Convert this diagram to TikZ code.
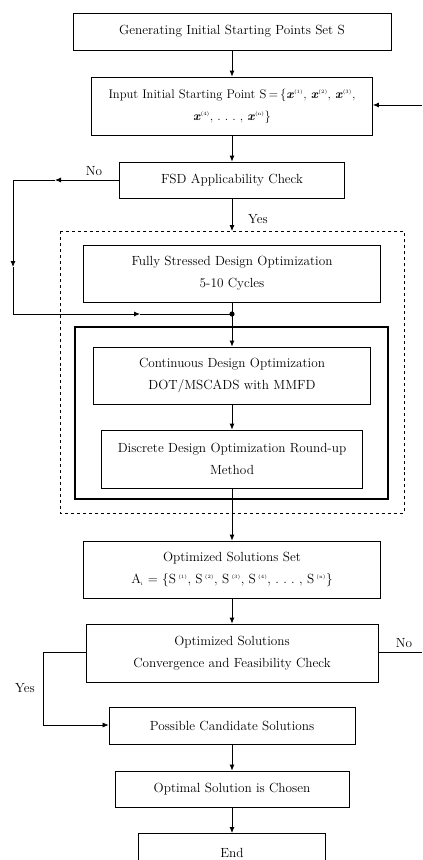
\documentclass[tikz,border=0pt]{standalone}
\usetikzlibrary{arrows.meta}
\begin{document}
\begin{tikzpicture}[x=1bp,y=-1bp,
  every node/.style={font=\fontsize{13.3}{22}\selectfont},
  flowbox/.style={draw, line width=0.8bp, align=center, inner sep=0pt},
  conn/.style={line width=0.8bp, -{Latex[length=6bp,width=5bp]}},
  plain/.style={line width=0.8bp},
  lbl/.style={inner sep=0pt}]
\useasboundingbox (0,0) rectangle (422,860);
\clip (0,0) rectangle (422,860);
% boxes
\node[flowbox, minimum width=318bp, minimum height=37bp] (gen) at (232,31.5) {Generating Initial Starting Points Set S};
\node[flowbox, minimum width=281bp, minimum height=58bp, font=\fontsize{12.6}{22}\selectfont] (inp) at (232,106) {Input Initial Starting Point S\,=\,\{\textbf{\textit{x}}\textsuperscript{\tiny(1)}, \textbf{\textit{x}}\textsuperscript{\tiny(2)}, \textbf{\textit{x}}\textsuperscript{\tiny(3)},\\ \textbf{\textit{x}}\textsuperscript{\tiny(4)}, .\ .\ .\ , \textbf{\textit{x}}\textsuperscript{\tiny(n)}\}};
\node[flowbox, minimum width=225bp, minimum height=36bp] (fsd) at (232,180) {FSD Applicability Check};
\draw[dashed, line width=0.6bp] (60,231) rectangle (404,513);
\coordinate (dtop) at (232,231);
\node[flowbox, minimum width=297bp, minimum height=57bp] (fsdopt) at (232,273.5) {Fully Stressed Design Optimization\\5-10 Cycles};
\draw[line width=2.2bp] (75,327) rectangle (388,499);
\node[flowbox, minimum width=277bp, minimum height=57bp] (cont) at (232,375.5) {Continuous Design Optimization\\DOT/MSCADS with MMFD};
\node[flowbox, minimum width=261bp, minimum height=58bp] (disc) at (232,459) {Discrete Design Optimization Round-up\\Method};
\node[flowbox, minimum width=297bp, minimum height=57bp] (oset) at (232,569.5) {Optimized Solutions Set\\A\textsubscript{\tiny i} = \{S\,\textsuperscript{\tiny(1)}, S\,\textsuperscript{\tiny(2)}, S\,\textsuperscript{\tiny(3)}, S\,\textsuperscript{\tiny(4)}, .\ .\ .\ , S\,\textsuperscript{\tiny(n)}\}};
\node[flowbox, minimum width=292bp, minimum height=58bp] (chk) at (232,653) {Optimized Solutions\\Convergence and Feasibility Check};
\node[flowbox, minimum width=246bp, minimum height=37bp] (poss) at (232,725.5) {Possible Candidate Solutions};
\node[flowbox, minimum width=234bp, minimum height=36bp] (best) at (232,789) {Optimal Solution is Chosen};
\draw[plain] (138,880) |- (325,833) -- (325,880);
\node[lbl] (endt) at (232,853) {End};
\coordinate (endtop) at (232,833);
% dot
\coordinate (dot) at (232,314);
\fill (dot) circle (2.6bp);
% connectors
\draw[conn] (gen) -- (inp);
\draw[conn] (inp) -- (fsd);
\draw[conn] (fsd) -- (dtop);
\node[lbl] (yes1) at (258,219) {Yes};
\coordinate (inR) at (422,105);
\draw[conn] (inR) -- (inp.east |- inR);
% No branch from FSD check
\coordinate (noA) at (55,180);
\coordinate (noB) at (13,180);
\coordinate (noC) at (13,267);
\coordinate (noD) at (13,314);
\coordinate (noE) at (140,314);
\draw[conn] (fsd.west) -- (noA);
\draw[conn] (noA) -- (noB) -- (noC);
\draw[conn] (noC) -- (noD) -- (noE);
\draw[plain] (noE) -- (dot);
\node[lbl] (no1) at (94,171) {No};
\draw[plain] (fsdopt) -- (dot);
\draw[conn] (dot) -- (cont);
\draw[conn] (cont) -- (disc);
\draw[conn] (disc) -- (oset);
\draw[conn] (oset) -- (chk);
% Yes branch from check
\coordinate (yA) at (43,652);
\coordinate (yB) at (43,725);
\draw[conn, line width=0.6bp] (chk.west |- yA) -- (yA) -- (yB) -- (poss.west |- yB);
\node[lbl] (yes2) at (25,688) {Yes};
\coordinate (nR) at (422,652);
\draw[plain, line width=0.6bp] (chk.east |- nR) -- (nR);
\node[lbl] (no2) at (404,643) {No};
\draw[conn] (poss) -- (best);
\draw[conn] (best) -- (endtop);
\end{tikzpicture}
\end{document}
